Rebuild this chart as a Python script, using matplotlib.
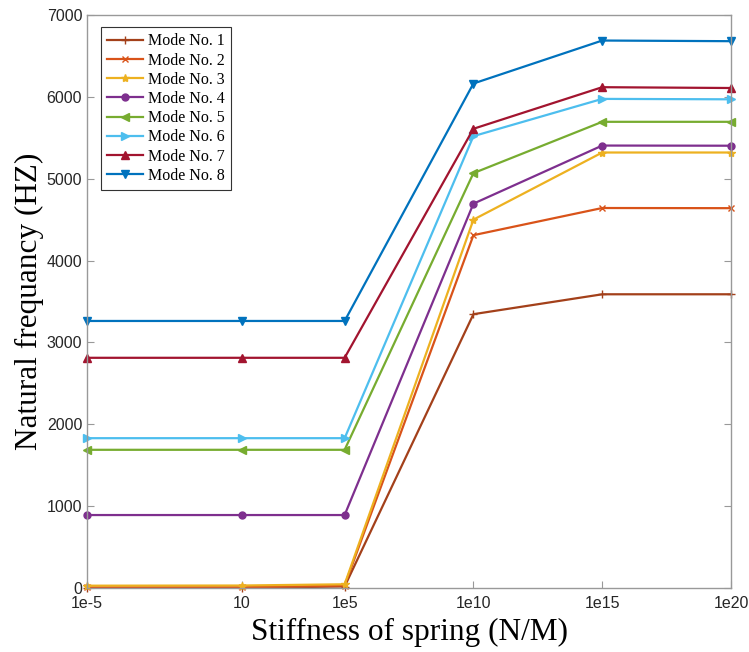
import matplotlib
matplotlib.use("Agg")
import matplotlib.pyplot as plt

# Spring stiffness values (N/M) and their tick labels
stiffness = [1e-5, 10, 1e5, 1e10, 1e15, 1e20]
tick_labels = ["1e-5", "10", "1e5", "1e10", "1e15", "1e20"]

# Natural frequencies (Hz) for each mode
mode1 = [2, 3, 18, 3345, 3588, 3588]
mode2 = [6, 8, 30, 4310, 4642, 4640]
mode3 = [28, 30, 45, 4500, 5320, 5320]
mode4 = [891, 891, 891, 4695, 5405, 5403]
mode5 = [1688, 1688, 1688, 5068, 5695, 5695]
mode6 = [1830, 1830, 1830, 5520, 5975, 5970]
mode7 = [2812, 2812, 2812, 5610, 6118, 6108]
mode8 = [3262, 3262, 3262, 6163, 6688, 6680]

modes = [mode1, mode2, mode3, mode4, mode5, mode6, mode7, mode8]
labels = [f"Mode No. {i}" for i in range(1, 9)]
colors = ["#A3401A", "#D95319", "#EDB120", "#7E2F8E",
          "#77AC30", "#4DBEEE", "#A2142F", "#0072BD"]
markers = ["+", "x", "*", "o", "<", ">", "^", "v"]
msizes = [6, 4.5, 6, 5, 5.5, 5.5, 5.5, 5.5]

fig = plt.figure(figsize=(7.49, 6.52), dpi=100)
ax = fig.add_axes([0.1162, 0.0982, 0.8598, 0.8788])

for vals, lab, c, m, ms in zip(modes, labels, colors, markers, msizes):
    ax.plot(stiffness, vals, color=c, marker=m, markersize=ms,
            linewidth=1.6, label=lab, clip_on=False)

ax.set_xscale("log")
ax.set_xlim(1e-5, 1e20)
ax.set_ylim(0, 7000)
ax.set_xticks(stiffness)
ax.set_xticklabels(tick_labels)
ax.minorticks_off()
ax.set_yticks(range(0, 7001, 1000))

for sp in ax.spines.values():
    sp.set_color("#999999")
    sp.set_linewidth(1.0)

ax.tick_params(axis="both", direction="in", length=5, color="#999999",
               labelsize=11.5, labelcolor="#262626", pad=3.5)
ax.tick_params(axis="x", pad=6)
ax.tick_params(axis="y", right=True)
for t in ax.get_xticklabels() + ax.get_yticklabels():
    t.set_family("Liberation Sans")

ax.set_xlabel("Stiffness of spring (N/M)", family="Liberation Serif",
              fontsize=22.5)
ax.xaxis.set_label_coords(0.5, -0.052)
ax.set_ylabel("Natural frequancy (HZ)", family="Liberation Serif",
              fontsize=22.5)
ax.yaxis.set_label_coords(-0.067, 0.5)

leg = ax.legend(loc="upper left", bbox_to_anchor=(0.0217, 0.979),
                prop={"family": "Liberation Serif", "size": 11.5},
                handlelength=2.2, labelspacing=0.2, borderpad=0.4,
                handletextpad=0.35, borderaxespad=0, fancybox=False,
                framealpha=1)
leg.get_frame().set_edgecolor("#333333")
leg.get_frame().set_linewidth(0.8)

fig.savefig("out.png", dpi=100)
